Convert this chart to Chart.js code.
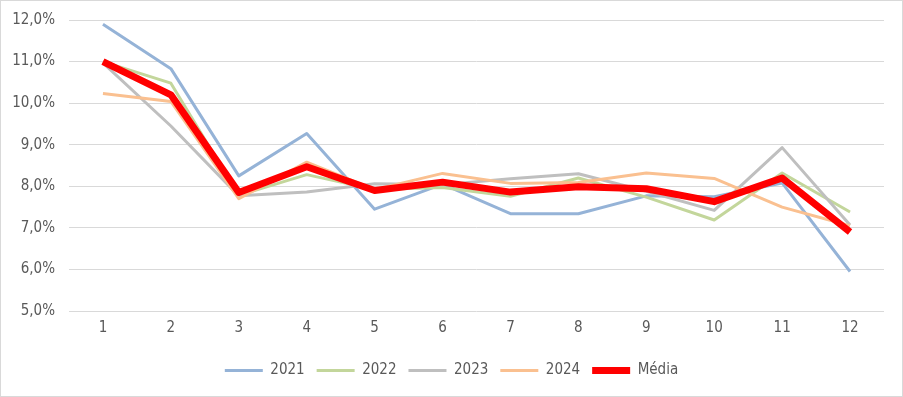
<!DOCTYPE html>
<html lang="pt">
<head>
  <meta charset="UTF-8">
  <title>Média mensal</title>
  <script src="https://cdn.jsdelivr.net/npm/chart.js"></script>
  <style>
    body { margin: 0; background: #fff; }
    .box { width: 901px; height: 395px; border: 1px solid #d9d9d9; position: relative; }
  </style>
</head>
<body>
  <div class="box">
    <canvas id="chart"></canvas>
  </div>

  <script>
    // valores (%)
    const months = ['1', '2', '3', '4', '5', '6', '7', '8', '9', '10', '11', '12'];
    const y2021 = [11.9, 10.83, 8.25, 9.27, 7.45, 8.05, 7.34, 7.34, 7.77, 7.75, 8.08, 5.95];
    const y2022 = [11.0, 10.48, 7.78, 8.28, 7.92, 7.97, 7.76, 8.2, 7.74, 7.19, 8.32, 7.38];
    const y2023 = [10.97, 9.45, 7.77, 7.86, 8.06, 8.04, 8.18, 8.3, 7.88, 7.42, 8.93, 7.07];
    const y2024 = [10.23, 10.04, 7.7, 8.58, 7.92, 8.31, 8.07, 8.09, 8.32, 8.19, 7.5, 7.05];
    const media = [11.0, 10.2, 7.85, 8.47, 7.9, 8.1, 7.86, 7.99, 7.94, 7.63, 8.2, 6.9];

    const font = "'Liberation Sans Narrow', 'DejaVu Sans Condensed', sans-serif";
    const textColor = '#595959';

    function serie(label, data, color, width, order) {
      return {
        label: label,
        data: data,
        borderColor: color,
        backgroundColor: color,
        borderWidth: width,
        pointRadius: 0,
        pointHoverRadius: 0,
        tension: 0,
        borderJoinStyle: 'round',
        order: order
      };
    }

    const ctx = document.getElementById('chart').getContext('2d');
    new Chart(ctx, {
      type: 'line',
      data: {
        labels: months,
        datasets: [
          serie('2021', y2021, '#95b3d7', 3, 5),
          serie('2022', y2022, '#c3d69b', 3, 4),
          serie('2023', y2023, '#bfbfbf', 3, 3),
          serie('2024', y2024, '#fac090', 3, 2),
          serie('Média', media, '#ff0000', 7, 1)
        ]
      },
      options: {
        responsive: true,
        maintainAspectRatio: false,
        animation: false,
        layout: { padding: { top: 19, right: 0, bottom: 8, left: 0 } },
        plugins: {
          tooltip: { enabled: false },
          legend: {
            position: 'bottom',
            labels: {
              usePointStyle: true,
              pointStyle: 'line',
              boxWidth: 35,
              pointStyleWidth: 38,
              padding: 12,
              color: textColor,
              font: { family: font, size: 15 },
              sort: (a, b) => a.datasetIndex - b.datasetIndex
            }
          }
        },
        scales: {
          x: {
            offset: true,
            grid: { display: false },
            border: { display: false },
            afterFit: (scale) => { scale.height = 40; },
            ticks: { color: textColor, font: { family: font, size: 15 }, padding: 0 }
          },
          y: {
            min: 5,
            max: 12,
            afterFit: (scale) => { scale.width = 68; scale.paddingTop = 0; },
            grid: { color: '#d9d9d9', lineWidth: 1, drawTicks: false },
            border: { display: false },
            ticks: {
              stepSize: 1,
              padding: 14,
              color: textColor,
              font: { family: font, size: 15 },
              callback: (v) => v.toFixed(1).replace('.', ',') + '%'
            }
          },
          // eixo vazio à direita, só para deixar a margem
          yRight: {
            position: 'right',
            display: true,
            grid: { display: false },
            border: { display: false },
            ticks: { display: false },
            afterFit: (scale) => { scale.width = 18; }
          }
        }
      }
    });
  </script>
</body>
</html>
